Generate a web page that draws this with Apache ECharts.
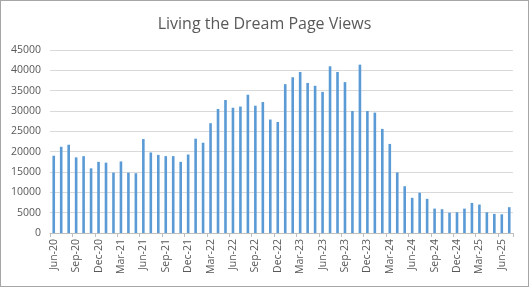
<!DOCTYPE html>
<html>
<head>
<meta charset="utf-8">
<script src="https://cdn.jsdelivr.net/npm/echarts@6/dist/echarts.min.js"></script>
<style>
html,body{margin:0;padding:0;background:#fff;}
#c{width:529px;height:287px;box-sizing:border-box;border:1px solid #a6a6a6;}
</style>
</head>
<body>
<div id="c"></div>
<script>
const months = ["Jun-20","Jul-20","Aug-20","Sep-20","Oct-20","Nov-20","Dec-20",
"Jan-21","Feb-21","Mar-21","Apr-21","May-21","Jun-21","Jul-21","Aug-21","Sep-21","Oct-21","Nov-21","Dec-21",
"Jan-22","Feb-22","Mar-22","Apr-22","May-22","Jun-22","Jul-22","Aug-22","Sep-22","Oct-22","Nov-22","Dec-22",
"Jan-23","Feb-23","Mar-23","Apr-23","May-23","Jun-23","Jul-23","Aug-23","Sep-23","Oct-23","Nov-23","Dec-23",
"Jan-24","Feb-24","Mar-24","Apr-24","May-24","Jun-24","Jul-24","Aug-24","Sep-24","Oct-24","Nov-24","Dec-24",
"Jan-25","Feb-25","Mar-25","Apr-25","May-25","Jun-25","Jul-25"];
const pageViews = [19000,21200,21700,18600,18900,15900,17500,
17300,14850,17600,14850,14700,23100,19800,19200,18900,18900,17500,19300,
23200,22200,27000,30500,32700,30800,31100,34000,31300,32200,27900,27300,
36600,38300,39600,36900,36200,34700,41000,39600,37100,30000,41400,30000,
29600,25600,21900,14900,11500,8650,9900,8400,6000,5850,5000,5100,
6000,7400,7000,5100,4700,4600,6350];
const chartTitle = "Living the Dream Page Views";

const chart = echarts.init(document.getElementById('c'), null, {renderer:'canvas'});
chart.setOption({
  animation:false,
  title:{text:chartTitle,left:'center',top:10,
    textStyle:{fontFamily:'Open Sans',fontSize:16,fontWeight:'normal',color:'#595959'}},
  grid:{left:49,right:15,top:49,bottom:53,containLabel:false},
  xAxis:{type:'category',data:months,boundaryGap:true,
    axisLine:{lineStyle:{color:'#bfbfbf'}},
    axisTick:{show:true,interval:2,length:4,lineStyle:{color:'#bfbfbf'}},
    axisLabel:{interval:2,rotate:90,margin:6,fontFamily:'Open Sans',fontSize:10.5,color:'#595959'}},
  yAxis:{type:'value',min:0,max:45000,interval:5000,
    axisLine:{show:false},axisTick:{show:false},
    splitLine:{lineStyle:{color:'#d9d9d9'}},
    axisLabel:{margin:9,fontFamily:'Open Sans',fontSize:10.5,color:'#595959',
      formatter:function(v){return String(v);}}},
  series:[{type:'bar',data:pageViews,barWidth:'35%',itemStyle:{color:'#5b9bd5'}}]
});
</script>
</body>
</html>
